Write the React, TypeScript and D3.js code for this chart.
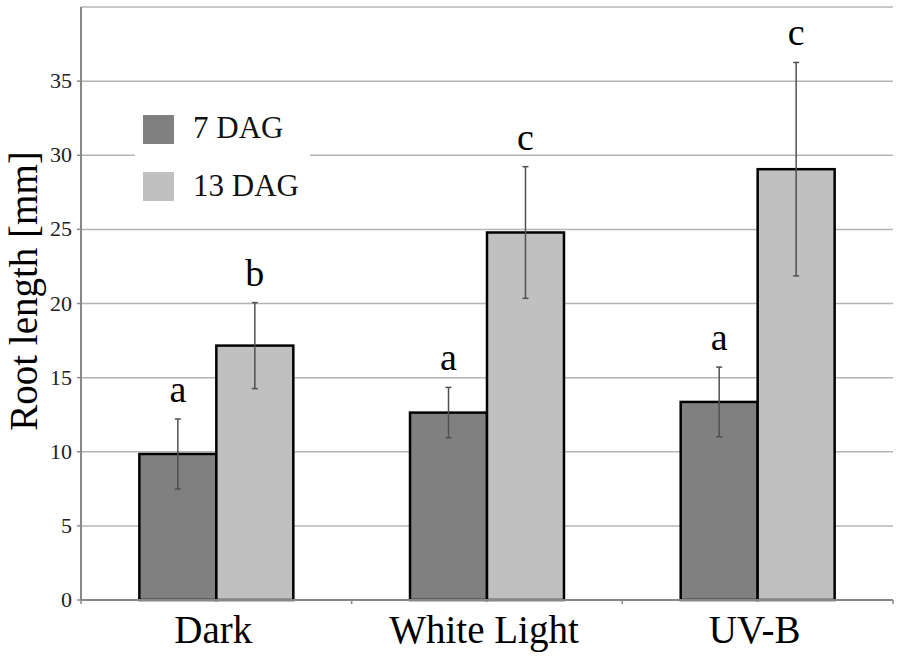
import React from "react";
import * as d3 from "d3";

const categories = ["Dark", "White Light", "UV-B"];
const seriesNames = ["7 DAG", "13 DAG"];
const means7 = [9.85, 12.64, 13.36];
const err7 = [2.36, 1.7, 2.35];
const means13 = [17.16, 24.79, 29.06];
const err13 = [2.9, 4.44, 7.2];
const letters7 = ["a", "a", "a"];
const letters13 = ["b", "c", "c"];
const yTicks = [0, 5, 10, 15, 20, 25, 30, 35];
const gridValues = [5, 10, 15, 20, 25, 30, 35, 40];

const W = 900;
const H = 658;
const left = 81;
const right = 893;
const top = 7;
const bottom = 600;
const FONT = "Liberation Serif, Times New Roman, Times, DejaVu Serif, serif";
const colors = ["#808080", "#c0c0c0"];

const txt = (size: number): React.CSSProperties => ({ fontFamily: FONT, fontSize: size + "px" });

export default function App() {
  const y = d3.scaleLinear().domain([0, 40]).range([bottom, top]);
  const x0 = d3.scaleBand<string>().domain(categories).range([left, right]).padding(0);
  const x1 = d3
    .scaleBand<string>()
    .domain(seriesNames)
    .range([0, x0.bandwidth()])
    .paddingInner(0)
    .paddingOuter(0.758);

  const series = [
    { name: seriesNames[0], means: means7, errs: err7, letters: letters7, color: colors[0] },
    { name: seriesNames[1], means: means13, errs: err13, letters: letters13, color: colors[1] },
  ];

  const boundaries = d3.range(categories.length + 1).map((i) =>
    i < categories.length ? (x0(categories[i]) as number) : right
  );

  return (
    <svg
      width={W}
      height={H}
      style={{ position: "absolute", left: 0, top: 0, background: "#fff", fontFamily: FONT }}
    >
      <rect x={0} y={0} width={W} height={H} fill="#fff" />
      {gridValues.map((v) => (
        <line
          key={"g" + v}
          x1={left}
          x2={right}
          y1={y(v)}
          y2={y(v)}
          stroke="#b4b4b4"
          strokeWidth={1.5}
        />
      ))}
      <rect x={135} y={98} width={175} height={118} fill="#fff" />
      {series.map((s, i) => (
        <g key={"leg" + i}>
          <rect x={143} y={115 + i * 57} width={31} height={29} fill={s.color} />
          <text x={193} y={138 + i * 58} style={txt(31)} fill="#111">
            {s.name}
          </text>
        </g>
      ))}
      {yTicks.map((v) => (
        <g key={"t" + v}>
          <line x1={left - 4} x2={left} y1={y(v)} y2={y(v)} stroke="#888" strokeWidth={1.5} />
          <text x={72} y={y(v) + 7} style={txt(22)} textAnchor="end" fill="#222">
            {v}
          </text>
        </g>
      ))}
      {categories.map((c, ci) => (
        <g key={c} transform={`translate(${x0(c)},0)`}>
          {series.map((s) => {
            const bx = x1(s.name) as number;
            const bw = x1.bandwidth();
            const cx = bx + bw / 2;
            const m = s.means[ci];
            const e = s.errs[ci];
            return (
              <g key={s.name}>
                <rect
                  x={bx}
                  y={y(m)}
                  width={bw}
                  height={y(0) - y(m)}
                  fill={s.color}
                  stroke="#000"
                  strokeWidth={2.5}
                />
                <line x1={cx} x2={cx} y1={y(m + e)} y2={y(m - e)} stroke="#505050" strokeWidth={1.5} />
                <line x1={cx - 3} x2={cx + 3} y1={y(m + e)} y2={y(m + e)} stroke="#505050" strokeWidth={1.5} />
                <line x1={cx - 3} x2={cx + 3} y1={y(m - e)} y2={y(m - e)} stroke="#505050" strokeWidth={1.5} />
                <text x={cx} y={y(m + e) - 17} style={txt(38)} textAnchor="middle" fill="#000">
                  {s.letters[ci]}
                </text>
              </g>
            );
          })}
        </g>
      ))}
      <line x1={left} x2={right} y1={bottom} y2={bottom} stroke="#888" strokeWidth={2} />
      {boundaries.map((bx, i) => (
        <line key={"xb" + i} x1={bx} x2={bx} y1={bottom} y2={bottom + 4} stroke="#888" strokeWidth={1.5} />
      ))}
      <line x1={left} x2={left} y1={top} y2={bottom} stroke="#888" strokeWidth={2} />
      {categories.map((c) => (
        <text
          key={"l" + c}
          x={(x0(c) as number) + x0.bandwidth() / 2 - 3}
          y={643}
          style={txt(39)}
          textAnchor="middle"
          fill="#000"
        >
          {c}
        </text>
      ))}
      <text
        transform={`translate(37,${291}) rotate(-90)`}
        style={txt(39)}
        textAnchor="middle"
        fill="#000"
      >
        Root length [mm]
      </text>
    </svg>
  );
}
